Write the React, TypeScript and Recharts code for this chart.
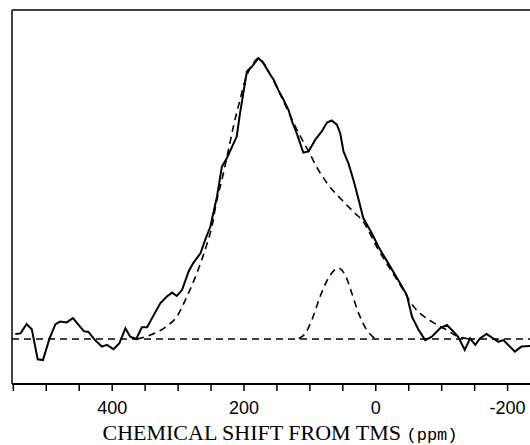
import { Line, LineChart, ReferenceLine, XAxis, YAxis } from "recharts";

// chemical shift (ppm) and intensity
const measured = [
  { x: 547, y: 1.8 }, { x: 539, y: 2.0 }, { x: 530, y: 5.3 }, { x: 522, y: 3.5 },
  { x: 513, y: -7.2 }, { x: 505, y: -7.5 }, { x: 495, y: 0.2 }, { x: 486, y: 5.3 },
  { x: 479, y: 6.2 }, { x: 469, y: 5.9 }, { x: 459.5, y: 7.4 }, { x: 451, y: 5.0 },
  { x: 443, y: 2.8 }, { x: 436, y: 2.5 }, { x: 426, y: -0.4 }, { x: 415.5, y: -2.7 },
  { x: 408, y: -2.1 }, { x: 398, y: -3.6 }, { x: 389, y: -1.5 }, { x: 380, y: 3.8 },
  { x: 372.6, y: 0.8 }, { x: 363.5, y: 0 }, { x: 355, y: 4.2 }, { x: 347, y: 4.2 },
  { x: 337, y: 8.5 }, { x: 327, y: 12.7 }, { x: 317, y: 15.1 }, { x: 309, y: 16.5 },
  { x: 302, y: 15.3 }, { x: 294, y: 17.4 }, { x: 284, y: 24.0 }, { x: 277, y: 27.0 },
  { x: 266, y: 30.5 }, { x: 259, y: 35.2 }, { x: 251, y: 40.0 }, { x: 241, y: 50.6 },
  { x: 233.5, y: 61.3 }, { x: 226, y: 64.3 }, { x: 218, y: 68.4 }, { x: 211, y: 72.0 },
  { x: 206, y: 80.3 }, { x: 201, y: 87.4 }, { x: 195.6, y: 95.1 }, { x: 188, y: 96.9 },
  { x: 178, y: 99.9 }, { x: 170.5, y: 98.1 }, { x: 160, y: 94.0 }, { x: 155, y: 92.2 },
  { x: 148, y: 88.6 }, { x: 140, y: 85.1 }, { x: 132.5, y: 81.5 }, { x: 127, y: 77.3 },
  { x: 120, y: 73.2 }, { x: 110, y: 66.3 }, { x: 102, y: 66.7 }, { x: 92, y: 70.8 },
  { x: 82, y: 73.8 }, { x: 74, y: 77.0 }, { x: 67, y: 77.7 }, { x: 59, y: 76.2 },
  { x: 54, y: 73.2 }, { x: 49, y: 66.7 }, { x: 41.5, y: 62.5 }, { x: 34, y: 56.6 },
  { x: 26, y: 49.5 }, { x: 19, y: 43.0 }, { x: 6, y: 37.6 }, { x: -4, y: 32.8 },
  { x: -19, y: 26.9 }, { x: -34, y: 21.0 }, { x: -47, y: 15.7 }, { x: -55, y: 7.9 },
  { x: -65, y: 3.2 }, { x: -75, y: -0.4 }, { x: -85, y: 0.8 }, { x: -97.5, y: 3.8 },
  { x: -108, y: 5.0 }, { x: -118, y: 2.6 }, { x: -125, y: 0.8 }, { x: -135, y: -3.9 },
  { x: -143, y: 0.2 }, { x: -151, y: -2.1 }, { x: -158, y: 0.2 }, { x: -168, y: 1.8 },
  { x: -178, y: 0.2 }, { x: -186, y: -1.0 }, { x: -193.5, y: -0.4 }, { x: -201, y: -2.1 },
  { x: -211, y: -4.5 }, { x: -221, y: -2.7 }, { x: -234, y: -2.5 },
];

const mainFit = [
  { x: 362, y: 0 }, { x: 342, y: 1.4 }, { x: 317, y: 4.6 }, { x: 302, y: 7.9 },
  { x: 286.6, y: 15.1 }, { x: 271.5, y: 23.4 }, { x: 259, y: 31.7 }, { x: 248.7, y: 40.0 },
  { x: 241, y: 49.5 }, { x: 233.5, y: 56.6 }, { x: 223.5, y: 67.3 }, { x: 216, y: 75.6 },
  { x: 206, y: 85.1 }, { x: 198, y: 92.2 }, { x: 185.6, y: 98.1 }, { x: 178, y: 99.9 },
  { x: 170, y: 98.0 }, { x: 160, y: 94.0 }, { x: 148, y: 88.5 }, { x: 135, y: 82.0 },
  { x: 117, y: 73.2 }, { x: 102, y: 66.7 }, { x: 87, y: 60.1 }, { x: 72, y: 54.8 },
  { x: 51.6, y: 49.5 }, { x: 31.4, y: 44.7 }, { x: 21, y: 42.3 }, { x: -4, y: 31.7 },
  { x: -34, y: 20.4 }, { x: -59.6, y: 10.9 }, { x: -85, y: 6.2 }, { x: -108, y: 3.2 },
  { x: -125, y: 0.8 }, { x: -145.6, y: 0 },
];

const smallFit = [
  { x: 117, y: 0.2 }, { x: 107, y: 2.0 }, { x: 97, y: 6.8 }, { x: 84.5, y: 15.1 },
  { x: 72, y: 21.6 }, { x: 56.7, y: 25.2 }, { x: 46.5, y: 22.8 }, { x: 36.4, y: 16.3 },
  { x: 26, y: 9.1 }, { x: 13.6, y: 3.2 }, { x: 1, y: 0.2 },
];

const baseline = [{ x: 552, y: 0 }, { x: -234, y: 0 }];

const xTicks = [550, 500, 450, 400, 350, 300, 250, 200, 150, 100, 50, 0, -50, -100, -150, -200];
const labelledTicks = [400, 200, 0, -200];

function AxisTitle() {
  return (
    <text x={280} y={440} textAnchor="middle" fill="#000">
      <tspan fontFamily="'Liberation Serif', serif" fontSize={22}>CHEMICAL SHIFT FROM TMS </tspan>
      <tspan fontFamily="'Liberation Mono', monospace" fontSize={17}>(ppm)</tspan>
    </text>
  );
}

export default function App() {
  return (
    <div style={{ position: "absolute", left: 0, top: 0, background: "#fff" }}>
      <LineChart width={530} height={445} margin={{ top: 10, right: 0, left: 12, bottom: 0 }}>
        <XAxis
          dataKey="x"
          type="number"
          domain={[-234, 552]}
          reversed
          allowDataOverflow
          ticks={xTicks}
          interval={0}
          tickFormatter={(v: number) => (labelledTicks.includes(v) ? String(v) : "")}
          tick={{ fontSize: 18, fill: "#000", fontFamily: "'Liberation Sans', Arial, sans-serif" }}
          tickSize={7}
          tickMargin={10}
          tickLine={{ stroke: "#000", strokeWidth: 1.5 }}
          axisLine={{ stroke: "#000", strokeWidth: 2 }}
          height={61}
          label={{ content: () => <AxisTitle /> }}
        />
        <YAxis type="number" domain={[-16, 117]} allowDataOverflow hide />
        <ReferenceLine y={117} stroke="#000" strokeWidth={1.5} />
        <ReferenceLine x={552} stroke="#000" strokeWidth={1.5} />
        <Line data={baseline} dataKey="y" type="linear" stroke="#000" strokeWidth={1.6} strokeDasharray="7 5" dot={false} isAnimationActive={false} />
        <Line data={mainFit} dataKey="y" type="monotone" stroke="#000" strokeWidth={1.6} strokeDasharray="7 5" dot={false} isAnimationActive={false} />
        <Line data={smallFit} dataKey="y" type="monotone" stroke="#000" strokeWidth={1.6} strokeDasharray="7 5" dot={false} isAnimationActive={false} />
        <Line data={measured} dataKey="y" type="linear" stroke="#000" strokeWidth={2} dot={false} isAnimationActive={false} />
      </LineChart>
    </div>
  );
}
